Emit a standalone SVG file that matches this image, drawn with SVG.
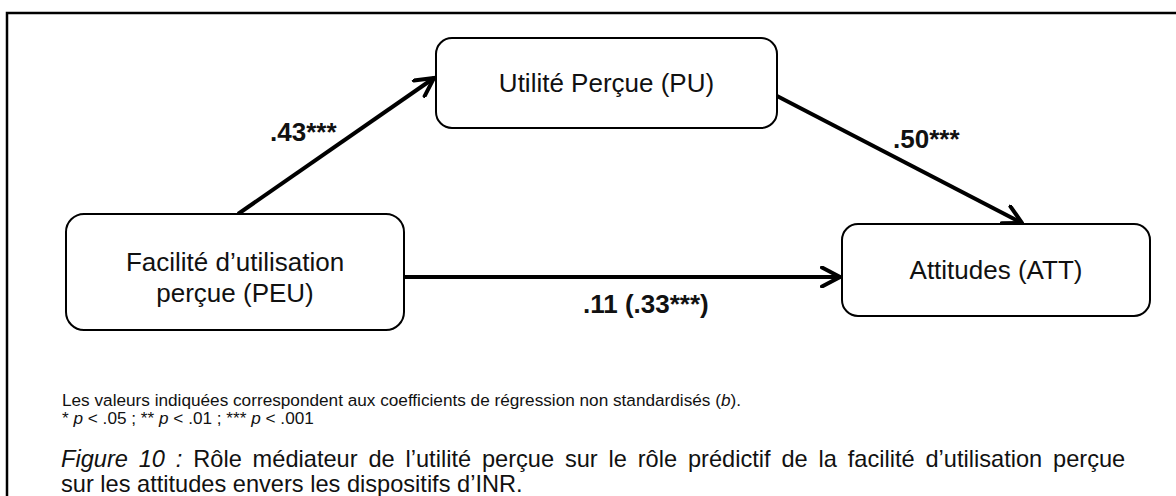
<svg xmlns="http://www.w3.org/2000/svg" width="1176" height="496" viewBox="0 0 1176 496">
  <style>
    .frame { fill: none; stroke: #000; stroke-width: 2.5; }
    .node { fill: #fff; stroke: #000; stroke-width: 2; }
    .ntext { font-family: "Liberation Sans", Arial, sans-serif; font-size: 26px; fill: #111; text-anchor: middle; }
    .edge { fill: none; stroke: #000; stroke-width: 4; }
    .elabel { font-family: "Liberation Sans", Arial, sans-serif; font-size: 26px; font-weight: bold; fill: #111; }
    .note { font-family: "Liberation Sans", Arial, sans-serif; font-size: 17.2px; fill: #111; }
    .cap { font-family: "Liberation Sans", Arial, sans-serif; font-size: 23.6px; fill: #111; }
    .it { font-style: italic; }
  </style>
  <defs>
    <marker id="arrow" viewBox="0 0 22 22" refX="20" refY="11" markerWidth="22" markerHeight="22" markerUnits="userSpaceOnUse" orient="auto">
      <path d="M2,1.5 L20,11 L2,20.5" fill="none" stroke="#000" stroke-width="4" stroke-linecap="round" stroke-linejoin="miter"/>
    </marker>
  </defs>
  <path class="frame" d="M7,500 V13 H1180"/>

  <g id="connectors">
    <line class="edge" x1="238" y1="214" x2="434" y2="78" marker-end="url(#arrow)"/>
    <line class="edge" x1="777" y1="96" x2="1022" y2="223" marker-end="url(#arrow)"/>
    <line class="edge" x1="404" y1="277" x2="840" y2="277" marker-end="url(#arrow)"/>
    <text class="elabel" x="270" y="141">.43***</text>
    <text class="elabel" x="893" y="148">.50***</text>
    <text class="elabel" x="583" y="313">.11 (.33***)</text>
  </g>

  <g id="node-pu">
    <rect class="node" x="436" y="38" width="341" height="90" rx="16" ry="16"/>
    <text class="ntext" x="606.5" y="92">Utilité Perçue (PU)</text>
  </g>

  <g id="node-peu">
    <rect class="node" x="66" y="214" width="338" height="116" rx="18" ry="18"/>
    <text class="ntext" x="235" y="271">Facilité d’utilisation</text>
    <text class="ntext" x="235" y="302">perçue (PEU)</text>
  </g>

  <g id="node-att">
    <rect class="node" x="842" y="224" width="308" height="92" rx="16" ry="16"/>
    <text class="ntext" x="996" y="279">Attitudes (ATT)</text>
  </g>

  <g id="notes">
    <text class="note" x="62" y="406">Les valeurs indiquées correspondent aux coefficients de régression non standardisés (<tspan class="it">b</tspan>).</text>
    <text class="note" x="62" y="424">* <tspan class="it">p</tspan> &lt; .05 ; ** <tspan class="it">p</tspan> &lt; .01 ; *** <tspan class="it">p</tspan> &lt; .001</text>
    <text class="cap" x="61" y="467" word-spacing="4.3"><tspan class="it">Figure 10 :</tspan> Rôle médiateur de l’utilité perçue sur le rôle prédictif de la facilité d’utilisation perçue</text>
    <text class="cap" x="61" y="492">sur les attitudes envers les dispositifs d’INR.</text>
  </g>
</svg>
